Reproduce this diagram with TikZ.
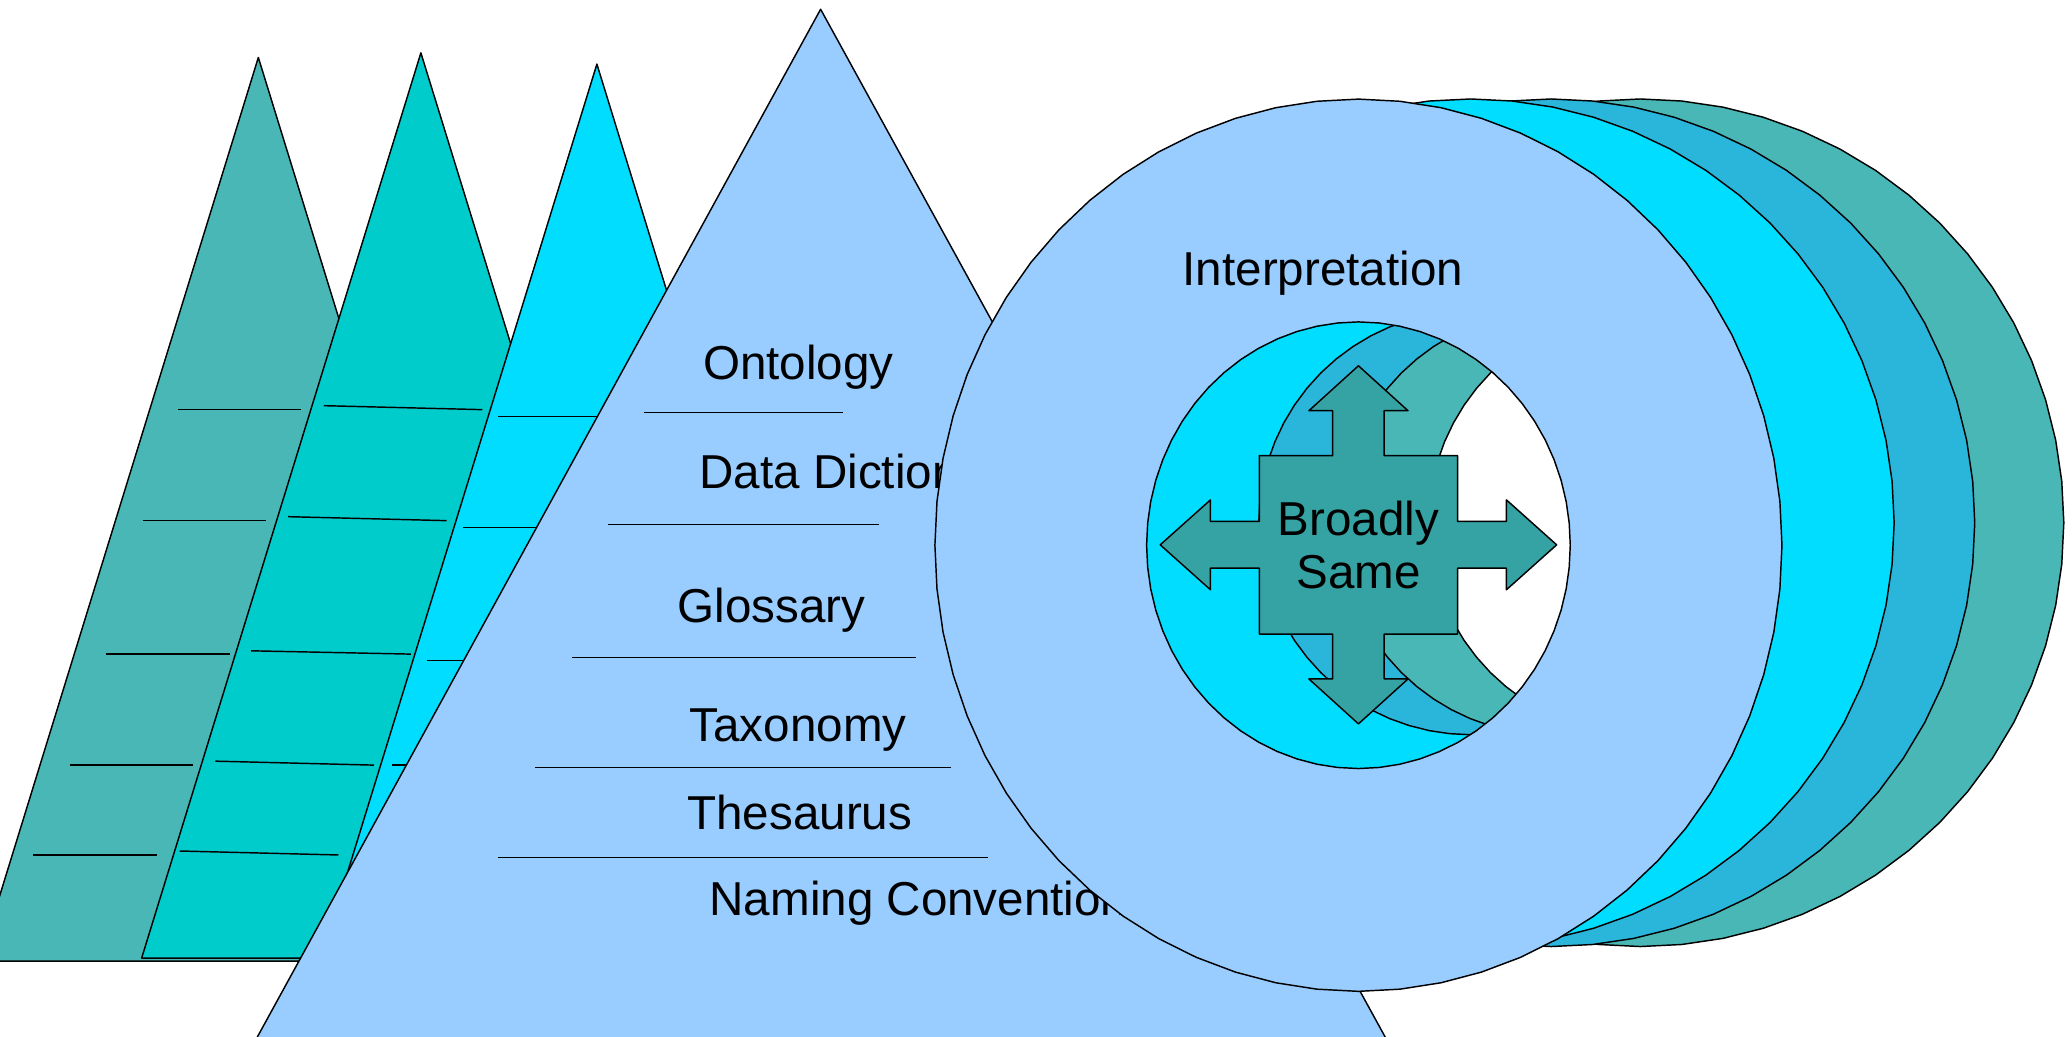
\documentclass[tikz,border=0pt]{standalone}
\usepackage{fontspec}
\setmainfont{Liberation Sans}
\definecolor{cTeal}{HTML}{4AB7B7}
\definecolor{cTurq}{HTML}{00CCCC}
\definecolor{cCyan}{HTML}{00DDFF}
\definecolor{cBlue}{HTML}{29B6DA}
\definecolor{cLight}{HTML}{99CCFF}
\definecolor{cArrow}{HTML}{35A3A3}
\begin{document}
\begin{tikzpicture}[x=1pt,y=-1pt,
  outl/.style={draw=black,line width=1.1pt,line join=round},
  rule/.style={draw=black,line width=1.1pt},
  lbl/.style={inner sep=0pt,font=\fontsize{36}{40}\selectfont,text=black},
]
\useasboundingbox (0,0) rectangle (1568,784);
\fill[white] (0,0) rectangle (1568,784);
\clip (0,0) rectangle (1568,784);

% triangle 1
\path[outl,fill=cTeal] (195.5,43.5) -- (406.5,727.3) -- (-15.5,727.3) -- cycle;
\draw[rule] (135,310) -- (228,310);
\draw[rule] (108,394) -- (201,394);
\draw[rule] (80,495) -- (174,495);
\draw[rule] (53,579) -- (146,579);
\draw[rule] (25,647) -- (119,647);

% triangle 2
\path[outl,fill=cTurq] (318.5,40) -- (530,725) -- (107.2,725) -- cycle;
\draw[rule] (245,307) -- (365,310);
\draw[rule] (218,391) -- (338,394);
\draw[rule] (190,492.5) -- (311,495);
\draw[rule] (163,576) -- (283,579);
\draw[rule] (136,644) -- (256,647);

% triangle 3
\path[outl,fill=cCyan] (451.7,48.5) -- (660,725) -- (243,725) -- cycle;
\draw[rule] (377,315) -- (497,315);
\draw[rule] (350,399) -- (470,399);
\draw[rule] (323,500) -- (443,500);
\draw[rule] (297,579) -- (417,579);
\draw[rule] (270,647) -- (390,647);

% big triangle
\path[outl,fill=cLight] (621,7) -- (1061,808) -- (182,808) -- cycle;
\node[lbl,anchor=base west] (ontology) at (531.8,287) {Ontology};
\node[lbl,anchor=base west] (datadict) at (529.2,369.6) {Data Dictionary};
\node[lbl,anchor=base west] (glossary) at (512.6,471) {Glossary};
\node[lbl,anchor=base west] (taxonomy) at (521.7,561.3) {Taxonomy};
\node[lbl,anchor=base west] (thesaurus) at (520,628) {Thesaurus};
\node[lbl,anchor=base west] (naming) at (536.8,693) {Naming Convention};
\draw[rule] (487.5,312.3) -- (638,312.3);
\draw[rule] (460,397) -- (665,397);
\draw[rule] (432.6,497.7) -- (693,497.7);
\draw[rule] (405,581) -- (720,581);
\draw[rule] (377,649) -- (748,649);

% discs (back to front), drawn as 64-sided polygons
\path[outl,fill=cTeal,even odd rule]
  plot[domain=-90:270,samples=65] ({1241.3+320.5*cos(\x)},{395.6+320.7*sin(\x)}) -- cycle
  plot[domain=-90:270,samples=65] ({1241.3+160.3*cos(\x)},{395.6+160.4*sin(\x)}) -- cycle;
\path[outl,fill=cBlue,even odd rule]
  plot[domain=-90:270,samples=65] ({1173.9+320.5*cos(\x)},{395.6+320.7*sin(\x)}) -- cycle
  plot[domain=-90:270,samples=65] ({1173.9+160.3*cos(\x)},{395.6+160.4*sin(\x)}) -- cycle;
\path[outl,fill=cCyan,even odd rule]
  plot[domain=-90:270,samples=65] ({1112.9+320.5*cos(\x)},{395.6+320.7*sin(\x)}) -- cycle
  plot[domain=-90:270,samples=65] ({1112.9+160.3*cos(\x)},{395.6+160.4*sin(\x)}) -- cycle;
\path[outl,fill=cLight,even odd rule]
  plot[domain=-90:270,samples=65] ({1028+320.5*cos(\x)},{412.6+337.6*sin(\x)}) -- cycle
  plot[domain=-90:270,samples=65] ({1028+160.3*cos(\x)},{412.6+169*sin(\x)}) -- cycle;

\node[lbl,anchor=base west] (interp) at (894.8,215.7) {Interpretation};

% four-way arrow
\begin{scope}[shift={(1028,412.3)}]
\path[outl,fill=cArrow]
  (0,-135.5) -- (37.5,-101.5) -- (19.5,-101.5) -- (19.5,-67.5) -- (75,-67.5)
  -- (75,-17.7) -- (112,-17.7) -- (112,-34) -- (150,0) -- (112,34) -- (112,17.7)
  -- (75,17.7) -- (75,67.5) -- (19.5,67.5) -- (19.5,101.5) -- (37.5,101.5)
  -- (0,135.5) -- (-37.5,101.5) -- (-19.5,101.5) -- (-19.5,67.5) -- (-75,67.5)
  -- (-75,17.7) -- (-112,17.7) -- (-112,34) -- (-150,0) -- (-112,-34) -- (-112,-17.7)
  -- (-75,-17.7) -- (-75,-67.5) -- (-19.5,-67.5) -- (-19.5,-101.5) -- (-37.5,-101.5)
  -- cycle;
\end{scope}
\node[lbl,align=center] (broadly) at (1028,412.3) {Broadly\\Same};
\end{tikzpicture}
\end{document}
